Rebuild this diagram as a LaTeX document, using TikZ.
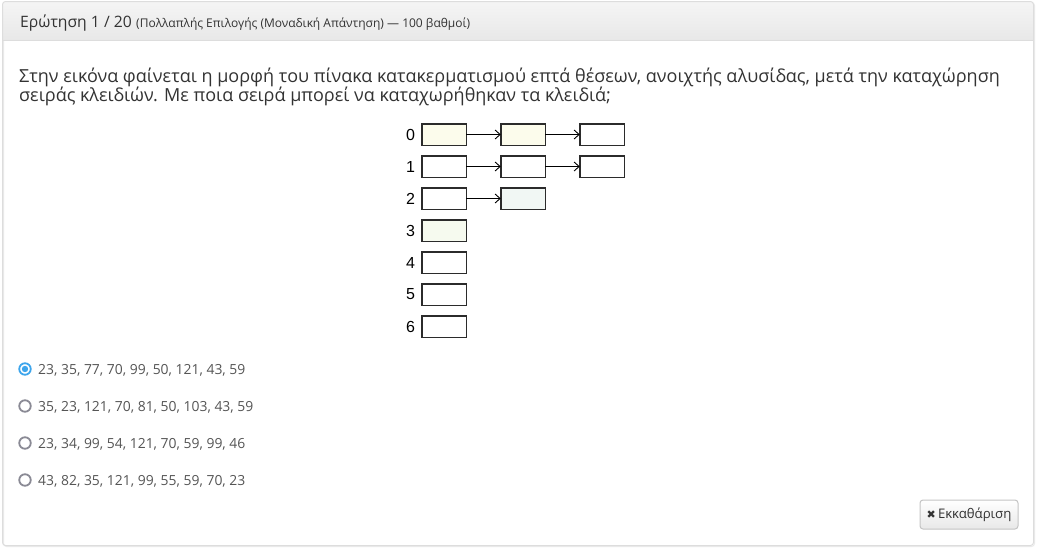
\documentclass[tikz,border=0pt]{standalone}
\usepackage{fontspec}
\setmainfont{Open Sans}
\newfontfamily\tabfont{Liberation Sans}
\newfontfamily\symfont{DejaVu Sans}
\usetikzlibrary{positioning,arrows.meta}
\definecolor{panelline}{HTML}{DDDDDD}
\definecolor{headtop}{HTML}{F5F5F5}
\definecolor{headbot}{HTML}{E8E8E8}
\definecolor{textgray}{HTML}{333333}
\definecolor{optgray}{HTML}{555555}
\definecolor{radiogray}{HTML}{8A8A95}
\definecolor{radioblue}{HTML}{3DA5EC}
\definecolor{boxline}{HTML}{2B2B2B}
\definecolor{btnline}{HTML}{C4C4C4}
\definecolor{paleyellow}{HTML}{FCFCEC}
\definecolor{palegreen}{HTML}{F6FAEF}
\definecolor{palecyan}{HTML}{F1F7F4}

\begin{document}
\begin{tikzpicture}[x=1pt,y=-1pt,
  txt/.style={anchor=base west,inner sep=0,text=textgray},
  slot/.style={draw=boxline,line width=1.5pt,minimum width=44.5pt,minimum height=21.5pt,inner sep=0,outer sep=0},
  idx/.style={font=\tabfont\fontsize{16}{16}\selectfont,inner sep=0},
  link/.style={-{Straight Barb[length=5pt,width=9pt]},line width=0.9pt},
  radio/.style={circle,draw=radiogray,line width=1.8pt,minimum size=11.5pt,inner sep=0}]
  \useasboundingbox[fill=white] (0,0) rectangle (1038,549);

  % panel and header
  \draw[panelline!60,line width=1pt,rounded corners=3pt] (3.5,2.5) rectangle (1034.5,546.5);
  \shade[top color=headtop,bottom color=headbot] (2.5,40) {[rounded corners=3pt] -- (2.5,1.5) -- (1033.5,1.5)} -- (1033.5,40) -- cycle;
  \draw[panelline,line width=1pt,rounded corners=3pt] (2.5,1.5) rectangle (1033.5,545.5);
  \draw[panelline,line width=1pt] (2.5,40) -- (1033.5,40);

  \node[txt,font=\fontsize{15.7}{15.7}\selectfont] (title) at (20,27) {Ερώτηση 1 / 20};
  \node[txt,font=\fontsize{12}{12}\selectfont,right=4pt of title.base east,anchor=base west] (kind) {(Πολλαπλής Επιλογής (Μοναδική Απάντηση) --- 100 βαθμοί)};

  % question
  \node[txt,font=\fontsize{18}{18}\selectfont] (q1) at (19,82) {Στην εικόνα φαίνεται η μορφή του πίνακα κατακερματισμού επτά θέσεων, ανοιχτής αλυσίδας, μετά την καταχώρηση};
  \node[txt,font=\fontsize{18}{18}\selectfont] (q2) at (19,101) {σειράς κλειδιών. Με ποια σειρά μπορεί να καταχωρήθηκαν τα κλειδιά;};

  % hash table
  \matrix (tab) [anchor=north west,column sep=33pt,row sep=9pt,inner sep=0,outer sep=0] at (421,123) {
    \node[slot,fill=paleyellow] (b0) {}; & \node[slot,fill=paleyellow] (b0a) {}; & \node[slot] (b0b) {}; \\
    \node[slot] (b1) {}; & \node[slot] (b1a) {}; & \node[slot] (b1b) {}; \\
    \node[slot] (b2) {}; & \node[slot,fill=palecyan] (b2a) {}; & \\
    \node[slot,fill=palegreen] (b3) {}; & & \\
    \node[slot] (b4) {}; & & \\
    \node[slot] (b5) {}; & & \\
    \node[slot] (b6) {}; & & \\
  };
  \node[idx,left=6.5pt of b0] (k0) {0};
  \node[idx,left=6.5pt of b1] (k1) {1};
  \node[idx,left=6.5pt of b2] (k2) {2};
  \node[idx,left=6.5pt of b3] (k3) {3};
  \node[idx,left=6.5pt of b4] (k4) {4};
  \node[idx,left=6.5pt of b5] (k5) {5};
  \node[idx,left=6.5pt of b6] (k6) {6};
  \draw[link] (b0.east) -- (b0a.west);
  \draw[link] (b0a.east) -- (b0b.west);
  \draw[link] (b1.east) -- (b1a.west);
  \draw[link] (b1a.east) -- (b1b.west);
  \draw[link] (b2.east) -- (b2a.west);

  % answers
  \node[radio,draw=radioblue] (r1) at (25,369) {};
  \fill[radioblue] (r1) circle (3.2pt);
  \node[radio] (r2) at (25,406) {};
  \node[radio] (r3) at (25,443) {};
  \node[radio] (r4) at (25,480) {};
  \node[txt,text=optgray,font=\fontsize{13.9}{13.9}\selectfont] (a1) at (38,374) {23, 35, 77, 70, 99, 50, 121, 43, 59};
  \node[txt,text=optgray,font=\fontsize{13.9}{13.9}\selectfont] (a2) at (38,411) {35, 23, 121, 70, 81, 50, 103, 43, 59};
  \node[txt,text=optgray,font=\fontsize{13.9}{13.9}\selectfont] (a3) at (38,448) {23, 34, 99, 54, 121, 70, 59, 99, 46};
  \node[txt,text=optgray,font=\fontsize{13.9}{13.9}\selectfont] (a4) at (38,485) {43, 82, 35, 121, 99, 55, 59, 70, 23};

  % clear button
  \node[draw=btnline,line width=1pt,top color=white,bottom color=headbot,rounded corners=3pt,
        minimum width=98pt,minimum height=29pt,inner sep=0,text=textgray,
        font=\fontsize{13.2}{13.2}\selectfont] (clear) at (969,514.5) {{\symfont\fontsize{11}{11}\selectfont ✖}\,Εκκαθάριση};
\end{tikzpicture}
\end{document}
